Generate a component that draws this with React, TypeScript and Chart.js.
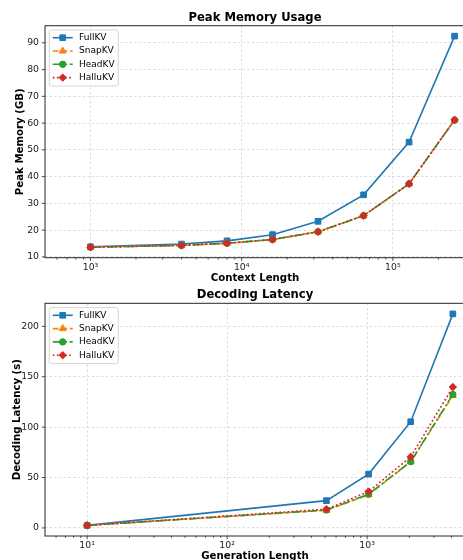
import React, { useEffect, useRef } from 'react';
import { Chart, registerables } from 'chart.js';

Chart.register(...registerables);

// ---------- data ----------
const METHODS = ['FullKV', 'SnapKV', 'HeadKV', 'HalluKV'];

const contextLengths = [1000, 4000, 8000, 16000, 32000, 64000, 128000, 256000];
const memFullKV = [13.8, 14.8, 16.0, 18.3, 23.3, 33.2, 52.9, 92.5];
const memSnapKV = [13.6, 14.3, 15.1, 16.5, 19.4, 25.4, 37.3, 61.2];
const memHeadKV = [13.6, 14.3, 15.1, 16.5, 19.4, 25.4, 37.3, 61.1];
const memHalluKV = [13.6, 14.3, 15.1, 16.5, 19.4, 25.4, 37.3, 61.2];

const genLengths = [10, 512, 1024, 2048, 4096];
const latFullKV = [2.5, 27.1, 53.4, 105.4, 212.4];
const latSnapKV = [2.5, 17.5, 33.0, 65.5, 131.5];
const latHeadKV = [2.5, 17.8, 33.5, 65.8, 132.5];
const latHalluKV = [2.5, 18.6, 36.1, 70.6, 139.8];

const memYTicks = [10, 20, 30, 40, 50, 60, 70, 80, 90];
const latYTicks = [0, 50, 100, 150, 200];
const memXTicks = [600, 700, 800, 900, 1000, 2000, 3000, 4000, 5000, 6000, 7000, 8000, 9000,
  10000, 20000, 30000, 40000, 50000, 60000, 70000, 80000, 90000, 100000, 200000];
const latXTicks = [6, 7, 8, 9, 10, 20, 30, 40, 50, 60, 70, 80, 90, 100, 200, 300, 400, 500,
  600, 700, 800, 900, 1000, 2000, 3000, 4000];

// ---------- styles ----------
const COLORS = ['#1f77b4', '#ff7f0e', '#2ca02c', '#d62728'];
const MARKERS = ['rect', 'triangle', 'circle', 'rectRot'];
const RADII = [4.0, 4.0, 3.2, 3.7];
const DASHES: number[][] = [[], [6, 2.6], [10, 2.6, 1.8, 2.6], [1.8, 2.3]];
const FONT = '"DejaVu Sans", "Liberation Sans", sans-serif';

const SUP: Record<string, string> = { '0': '⁰', '1': '¹', '2': '²', '3': '³', '4': '⁴', '5': '⁵', '6': '⁶', '7': '⁷', '8': '⁸', '9': '⁹', '-': '⁻' };

function isPow10(v: number) {
  const e = Math.log10(v);
  return Math.abs(e - Math.round(e)) < 1e-9;
}
function powLabel(v: number) {
  const e = String(Math.round(Math.log10(v)));
  return '10' + e.split('').map((c) => SUP[c] || c).join('');
}

function drawMarker(ctx: CanvasRenderingContext2D, style: string, x: number, y: number, r: number) {
  ctx.beginPath();
  if (style === 'rect') {
    const s = Math.SQRT1_2 * r;
    ctx.rect(x - s, y - s, 2 * s, 2 * s);
  } else if (style === 'triangle') {
    let rad = 0;
    ctx.moveTo(x + Math.sin(rad) * r, y - Math.cos(rad) * r);
    rad += (2 * Math.PI) / 3;
    ctx.lineTo(x + Math.sin(rad) * r, y - Math.cos(rad) * r);
    rad += (2 * Math.PI) / 3;
    ctx.lineTo(x + Math.sin(rad) * r, y - Math.cos(rad) * r);
    ctx.closePath();
  } else if (style === 'circle') {
    ctx.arc(x, y, r, 0, Math.PI * 2);
  } else {
    ctx.moveTo(x, y - r);
    ctx.lineTo(x + r, y);
    ctx.lineTo(x, y + r);
    ctx.lineTo(x - r, y);
    ctx.closePath();
  }
  ctx.fill();
  ctx.stroke();
}

function decorPlugin(title: string) {
  return {
    id: 'decor',
    afterDraw(chart: any) {
      const ctx: CanvasRenderingContext2D = chart.ctx;
      const a = chart.chartArea;
      const xs = chart.scales.x;
      const ys = chart.scales.y;
      ctx.save();
      // tick marks
      ctx.strokeStyle = '#222';
      ctx.lineWidth = 0.8;
      ctx.setLineDash([]);
      ctx.beginPath();
      xs.ticks.forEach((t: any) => {
        const px = xs.getPixelForValue(t.value);
        if (px < a.left - 0.5 || px > a.right + 0.5) return;
        const len = isPow10(t.value) ? 3.2 : 1.8;
        ctx.moveTo(px, a.bottom);
        ctx.lineTo(px, a.bottom + len);
      });
      ys.ticks.forEach((t: any) => {
        const py = ys.getPixelForValue(t.value);
        ctx.moveTo(a.left, py);
        ctx.lineTo(a.left - 3.2, py);
      });
      ctx.stroke();
      // frame
      ctx.strokeStyle = '#262626';
      ctx.lineWidth = 1;
      ctx.strokeRect(a.left, a.top, a.right - a.left, a.bottom - a.top);
      // title
      ctx.fillStyle = '#000';
      ctx.font = 'bold 11.6px ' + FONT;
      ctx.textAlign = 'center';
      ctx.textBaseline = 'middle';
      ctx.fillText(title, (a.left + a.right) / 2, a.top - 8);
      // legend
      const lx = a.left + 4.3;
      const ly = a.top + 4.3;
      const lw = 69;
      const lh = 56;
      ctx.fillStyle = 'rgba(255,255,255,0.85)';
      ctx.strokeStyle = '#cccccc';
      ctx.lineWidth = 0.8;
      ctx.beginPath();
      const rr = 2;
      ctx.moveTo(lx + rr, ly);
      ctx.lineTo(lx + lw - rr, ly);
      ctx.arcTo(lx + lw, ly, lx + lw, ly + rr, rr);
      ctx.lineTo(lx + lw, ly + lh - rr);
      ctx.arcTo(lx + lw, ly + lh, lx + lw - rr, ly + lh, rr);
      ctx.lineTo(lx + rr, ly + lh);
      ctx.arcTo(lx, ly + lh, lx, ly + lh - rr, rr);
      ctx.lineTo(lx, ly + rr);
      ctx.arcTo(lx, ly, lx + rr, ly, rr);
      ctx.closePath();
      ctx.fill();
      ctx.stroke();
      METHODS.forEach((m, i) => {
        const y = a.top + 12 + i * 13.3;
        ctx.strokeStyle = COLORS[i];
        ctx.fillStyle = COLORS[i];
        ctx.lineWidth = 1.6;
        ctx.setLineDash(DASHES[i]);
        ctx.beginPath();
        ctx.moveTo(a.left + 7.7, y);
        ctx.lineTo(a.left + 27.7, y);
        ctx.stroke();
        ctx.setLineDash([]);
        ctx.lineWidth = 1;
        drawMarker(ctx, MARKERS[i], a.left + 17.7, y, RADII[i]);
        ctx.fillStyle = '#000';
        ctx.font = '9px ' + FONT;
        ctx.textAlign = 'left';
        ctx.textBaseline = 'middle';
        ctx.fillText(m, a.left + 34, y);
      });
      ctx.restore();
    },
  };
}

interface Cfg {
  xs: number[];
  series: number[][];
  xMin: number;
  xMax: number;
  yMin: number;
  yMax: number;
  yTicks: number[];
  xTicks: number[];
  title: string;
  xTitle: string;
  yTitle: string;
  yTitlePad: number;
  xTitlePad: number;
  xHeight: number;
  topPad: number;
}

function buildConfig(c: Cfg): any {
  const datasets = c.series.map((ys, i) => ({
    label: METHODS[i],
    data: c.xs.map((x, j) => ({ x, y: ys[j] })),
    borderColor: COLORS[i],
    backgroundColor: COLORS[i],
    borderWidth: 1.6,
    borderDash: DASHES[i],
    pointStyle: MARKERS[i],
    pointRadius: RADII[i],
    pointBorderWidth: 1,
    pointBackgroundColor: COLORS[i],
    pointBorderColor: COLORS[i],
    order: 3 - i,
    tension: 0,
    clip: 6,
  }));
  return {
    type: 'line',
    data: { datasets },
    options: {
      responsive: false,
      animation: false,
      layout: { padding: { top: c.topPad, right: 2, left: 0, bottom: 0 } },
      plugins: { legend: { display: false }, title: { display: false }, tooltip: { enabled: false } },
      scales: {
        x: {
          type: 'logarithmic',
          min: c.xMin,
          max: c.xMax,
          afterBuildTicks: (s: any) => {
            s.ticks = c.xTicks.map((v) => ({ value: v }));
          },
          afterFit: (s: any) => {
            s.height = c.xHeight;
          },
          ticks: {
            autoSkip: false,
            maxRotation: 0,
            padding: 4,
            color: '#222',
            font: { family: FONT, size: 9.3 },
            callback: (v: any) => (isPow10(Number(v)) ? powLabel(Number(v)) : ''),
          },
          grid: {
            drawTicks: false,
            lineWidth: 0.8,
            color: (ctx: any) =>
              ctx.tick && isPow10(ctx.tick.value) ? 'rgba(176,176,176,0.55)' : 'rgba(0,0,0,0)',
          },
          border: { display: false, dash: [2.5, 2.2] },
          title: {
            display: true,
            text: c.xTitle,
            color: '#000',
            font: { family: FONT, size: 10.2, weight: 'bold' },
            padding: { top: 0, bottom: c.xTitlePad },
          },
        },
        y: {
          type: 'linear',
          min: c.yMin,
          max: c.yMax,
          afterBuildTicks: (s: any) => {
            s.ticks = c.yTicks.map((v) => ({ value: v }));
          },
          afterFit: (s: any) => {
            s.width = 45;
          },
          ticks: {
            padding: 6,
            color: '#222',
            font: { family: FONT, size: 9.3 },
          },
          grid: { drawTicks: false, lineWidth: 0.8, color: 'rgba(176,176,176,0.55)' },
          border: { display: false, dash: [2.5, 2.2] },
          title: {
            display: true,
            text: c.yTitle,
            color: '#000',
            font: { family: FONT, size: 10.2, weight: 'bold' },
            padding: { top: c.yTitlePad, bottom: 0 },
          },
        },
      },
    },
    plugins: [decorPlugin(c.title)],
  };
}

function ChartCanvas({ cfg, width, height, top }: { cfg: Cfg; width: number; height: number; top: number }) {
  const ref = useRef<HTMLCanvasElement | null>(null);
  useEffect(() => {
    if (!ref.current) return;
    const chart = new Chart(ref.current, buildConfig(cfg));
    return () => chart.destroy();
  }, []);
  return (
    <canvas
      ref={ref}
      width={width}
      height={height}
      style={{ position: 'absolute', left: 0, top, width, height }}
    />
  );
}

const memCfg: Cfg = {
  xs: contextLengths,
  series: [memFullKV, memSnapKV, memHeadKV, memHalluKV],
  xMin: 500,
  xMax: 300000,
  yMin: 9.7,
  yMax: 96.4,
  yTicks: memYTicks,
  xTicks: memXTicks,
  title: 'Peak Memory Usage',
  xTitle: 'Context Length',
  yTitle: 'Peak Memory (GB)',
  yTitlePad: 13.9,
  xTitlePad: 0.6,
  xHeight: 27.3,
  topPad: 25.7,
};

const latCfg: Cfg = {
  xs: genLengths,
  series: [latFullKV, latSnapKV, latHeadKV, latHalluKV],
  xMin: 5,
  xMax: 5000,
  yMin: -8,
  yMax: 222.9,
  yTicks: latYTicks,
  xTicks: latXTicks,
  title: 'Decoding Latency',
  xTitle: 'Generation Length',
  yTitle: 'Decoding Latency (s)',
  yTitlePad: 10.9,
  xTitlePad: 2.9,
  xHeight: 29,
  topPad: 18.3,
};

export default function App() {
  return (
    <div
      style={{
        position: 'absolute',
        left: 0,
        top: 0,
        width: 463,
        height: 560,
        overflow: 'hidden',
        background: '#fff',
      }}
    >
      <ChartCanvas cfg={memCfg} width={470} height={285} top={0} />
      <ChartCanvas cfg={latCfg} width={470} height={280} top={285} />
    </div>
  );
}
